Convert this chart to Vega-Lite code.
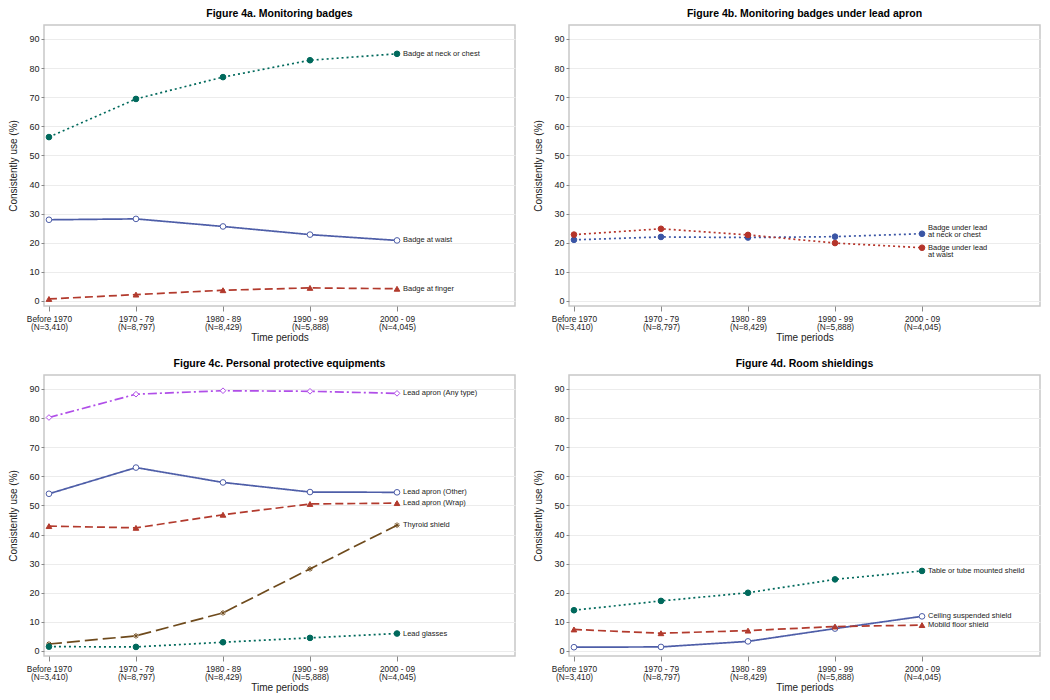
{
  "$schema": "https://vega.github.io/schema/vega-lite/v6.json",
  "background": "white",
  "padding": {"left": 8, "top": 7, "right": 5, "bottom": 5},
  "columns": 2,
  "spacing": {"row": 69, "column": 54},
  "bounds": "flush",
  "resolve": {"scale": {"stroke": "independent", "fill": "independent", "shape": "independent", "strokeDash": "independent"}},
  "datasets": {
    "a": [
      {"series": "Badge at neck or chest", "i": 0, "v": 56.3},
      {"series": "Badge at neck or chest", "i": 1, "v": 69.4},
      {"series": "Badge at neck or chest", "i": 2, "v": 76.9},
      {"series": "Badge at neck or chest", "i": 3, "v": 82.7},
      {"series": "Badge at neck or chest", "i": 4, "v": 84.9},
      {"series": "Badge at waist", "i": 0, "v": 27.9},
      {"series": "Badge at waist", "i": 1, "v": 28.2},
      {"series": "Badge at waist", "i": 2, "v": 25.6},
      {"series": "Badge at waist", "i": 3, "v": 22.8},
      {"series": "Badge at waist", "i": 4, "v": 20.8},
      {"series": "Badge at finger", "i": 0, "v": 0.7},
      {"series": "Badge at finger", "i": 1, "v": 2.2},
      {"series": "Badge at finger", "i": 2, "v": 3.7},
      {"series": "Badge at finger", "i": 3, "v": 4.5},
      {"series": "Badge at finger", "i": 4, "v": 4.2}
    ],
    "b": [
      {"series": "Badge under lead\nat neck or chest", "i": 0, "v": 21.0},
      {"series": "Badge under lead\nat neck or chest", "i": 1, "v": 22.0},
      {"series": "Badge under lead\nat neck or chest", "i": 2, "v": 21.8},
      {"series": "Badge under lead\nat neck or chest", "i": 3, "v": 22.1},
      {"series": "Badge under lead\nat neck or chest", "i": 4, "v": 23.1},
      {"series": "Badge under lead\nat waist", "i": 0, "v": 22.8},
      {"series": "Badge under lead\nat waist", "i": 1, "v": 24.8},
      {"series": "Badge under lead\nat waist", "i": 2, "v": 22.7},
      {"series": "Badge under lead\nat waist", "i": 3, "v": 19.9},
      {"series": "Badge under lead\nat waist", "i": 4, "v": 18.3}
    ],
    "c": [
      {"series": "Lead apron (Any type)", "i": 0, "v": 80.2},
      {"series": "Lead apron (Any type)", "i": 1, "v": 88.2},
      {"series": "Lead apron (Any type)", "i": 2, "v": 89.4},
      {"series": "Lead apron (Any type)", "i": 3, "v": 89.2},
      {"series": "Lead apron (Any type)", "i": 4, "v": 88.5},
      {"series": "Lead apron (Other)", "i": 0, "v": 54.0},
      {"series": "Lead apron (Other)", "i": 1, "v": 63.0},
      {"series": "Lead apron (Other)", "i": 2, "v": 57.9},
      {"series": "Lead apron (Other)", "i": 3, "v": 54.6},
      {"series": "Lead apron (Other)", "i": 4, "v": 54.5},
      {"series": "Lead apron (Wrap)", "i": 0, "v": 42.9},
      {"series": "Lead apron (Wrap)", "i": 1, "v": 42.3},
      {"series": "Lead apron (Wrap)", "i": 2, "v": 46.8},
      {"series": "Lead apron (Wrap)", "i": 3, "v": 50.5},
      {"series": "Lead apron (Wrap)", "i": 4, "v": 50.8},
      {"series": "Thyroid shield", "i": 0, "v": 2.4},
      {"series": "Thyroid shield", "i": 1, "v": 5.2},
      {"series": "Thyroid shield", "i": 2, "v": 13.1},
      {"series": "Thyroid shield", "i": 3, "v": 28.2},
      {"series": "Thyroid shield", "i": 4, "v": 43.2},
      {"series": "Lead glasses", "i": 0, "v": 1.5},
      {"series": "Lead glasses", "i": 1, "v": 1.4},
      {"series": "Lead glasses", "i": 2, "v": 3.0},
      {"series": "Lead glasses", "i": 3, "v": 4.5},
      {"series": "Lead glasses", "i": 4, "v": 6.0}
    ],
    "d": [
      {"series": "Table or tube mounted sheild", "i": 0, "v": 14.0},
      {"series": "Table or tube mounted sheild", "i": 1, "v": 17.2},
      {"series": "Table or tube mounted sheild", "i": 2, "v": 20.0},
      {"series": "Table or tube mounted sheild", "i": 3, "v": 24.6},
      {"series": "Table or tube mounted sheild", "i": 4, "v": 27.5},
      {"series": "Ceiling suspended shield", "i": 0, "v": 1.3},
      {"series": "Ceiling suspended shield", "i": 1, "v": 1.4},
      {"series": "Ceiling suspended shield", "i": 2, "v": 3.3},
      {"series": "Ceiling suspended shield", "i": 3, "v": 7.7},
      {"series": "Ceiling suspended shield", "i": 4, "v": 11.9},
      {"series": "Mobild floor shield", "i": 0, "v": 7.4},
      {"series": "Mobild floor shield", "i": 1, "v": 6.1},
      {"series": "Mobild floor shield", "i": 2, "v": 7.0},
      {"series": "Mobild floor shield", "i": 3, "v": 8.4},
      {"series": "Mobild floor shield", "i": 4, "v": 8.9}
    ]
  },
  "concat": [
    {
      "title": "Figure 4a. Monitoring badges",
      "width": 471, "height": 281,
      "data": {"name": "a"},
      "encoding": {
        "x": {"field": "i", "type": "quantitative", "scale": {"domain": [-0.057, 5.356], "nice": false, "zero": false}, "axis": {"values": [0, 1, 2, 3, 4], "labelExpr": "[['Before 1970','(N=3,410)'],['1970 - 79','(N=8,797)'],['1980 - 89','(N=8,429)'],['1990 - 99','(N=5,888)'],['2000 - 09','(N=4,045)']][datum.value]", "title": "Time periods"}},
        "y": {"field": "v", "type": "quantitative", "scale": {"domain": [-1.72, 94.8], "nice": false, "zero": false}, "axis": {"values": [0, 10, 20, 30, 40, 50, 60, 70, 80, 90], "title": "Consistently use (%)"}}
      },
      "layer": [
        {"mark": {"type": "line", "strokeWidth": 1.7},
         "encoding": {
           "stroke": {"field": "series", "type": "nominal", "legend": null, "scale": {"domain": ["Badge at neck or chest", "Badge at waist", "Badge at finger"], "range": ["#00695C", "#4E5EA8", "#B23A2D"]}},
           "strokeDash": {"field": "series", "type": "nominal", "legend": null, "scale": {"domain": ["Badge at neck or chest", "Badge at waist", "Badge at finger"], "range": [[2, 3], [1, 0], [8, 4]]}}
         }},
        {"mark": {"type": "point", "filled": true, "size": 32, "strokeWidth": 1, "opacity": 1},
         "encoding": {
           "stroke": {"field": "series", "type": "nominal", "legend": null},
           "fill": {"field": "series", "type": "nominal", "legend": null, "scale": {"domain": ["Badge at neck or chest", "Badge at waist", "Badge at finger"], "range": ["#00695C", "#ffffff", "#B23A2D"]}},
           "shape": {"field": "series", "type": "nominal", "legend": null, "scale": {"domain": ["Badge at neck or chest", "Badge at waist", "Badge at finger"], "range": ["circle", "circle", "triangle-up"]}}
         }},
        {"transform": [{"filter": "datum.i == 4"}],
         "mark": {"type": "text", "align": "left", "baseline": "middle", "dx": 6, "fontSize": 7.5, "color": "#222"},
         "encoding": {"text": {"field": "series"}}}
      ]
    },
    {
      "title": "Figure 4b. Monitoring badges under lead apron",
      "width": 471, "height": 281,
      "data": {"name": "b"},
      "encoding": {
        "x": {"field": "i", "type": "quantitative", "scale": {"domain": [-0.057, 5.356], "nice": false, "zero": false}, "axis": {"values": [0, 1, 2, 3, 4], "labelExpr": "[['Before 1970','(N=3,410)'],['1970 - 79','(N=8,797)'],['1980 - 89','(N=8,429)'],['1990 - 99','(N=5,888)'],['2000 - 09','(N=4,045)']][datum.value]", "title": "Time periods"}},
        "y": {"field": "v", "type": "quantitative", "scale": {"domain": [-1.72, 94.8], "nice": false, "zero": false}, "axis": {"values": [0, 10, 20, 30, 40, 50, 60, 70, 80, 90], "title": "Consistently use (%)"}}
      },
      "layer": [
        {"mark": {"type": "line", "strokeWidth": 1.7},
         "encoding": {
           "stroke": {"field": "series", "type": "nominal", "legend": null, "scale": {"domain": ["Badge under lead\nat neck or chest", "Badge under lead\nat waist"], "range": ["#3A55A5", "#B5342A"]}},
           "strokeDash": {"field": "series", "type": "nominal", "legend": null, "scale": {"domain": ["Badge under lead\nat neck or chest", "Badge under lead\nat waist"], "range": [[2, 3], [2, 3]]}}
         }},
        {"mark": {"type": "point", "filled": true, "size": 32, "strokeWidth": 1, "opacity": 1},
         "encoding": {
           "stroke": {"field": "series", "type": "nominal", "legend": null},
           "fill": {"field": "series", "type": "nominal", "legend": null, "scale": {"domain": ["Badge under lead\nat neck or chest", "Badge under lead\nat waist"], "range": ["#3A55A5", "#B5342A"]}},
           "shape": {"field": "series", "type": "nominal", "legend": null, "scale": {"domain": ["Badge under lead\nat neck or chest", "Badge under lead\nat waist"], "range": ["circle", "circle"]}}
         }},
        {"transform": [{"filter": "datum.i == 4 && datum.v > 20"}],
         "mark": {"type": "text", "align": "left", "baseline": "middle", "dx": 6, "dy": -6, "lineBreak": "\n", "lineHeight": 7.5, "fontSize": 7.5, "color": "#222"},
         "encoding": {"text": {"field": "series"}}},
        {"transform": [{"filter": "datum.i == 4 && datum.v < 20"}],
         "mark": {"type": "text", "align": "left", "baseline": "middle", "dx": 6, "dy": 0, "lineBreak": "\n", "lineHeight": 7.5, "fontSize": 7.5, "color": "#222"},
         "encoding": {"text": {"field": "series"}}}
      ]
    },
    {
      "title": "Figure 4c. Personal protective equipments",
      "width": 471, "height": 281,
      "data": {"name": "c"},
      "encoding": {
        "x": {"field": "i", "type": "quantitative", "scale": {"domain": [-0.057, 5.356], "nice": false, "zero": false}, "axis": {"values": [0, 1, 2, 3, 4], "labelExpr": "[['Before 1970','(N=3,410)'],['1970 - 79','(N=8,797)'],['1980 - 89','(N=8,429)'],['1990 - 99','(N=5,888)'],['2000 - 09','(N=4,045)']][datum.value]", "title": "Time periods"}},
        "y": {"field": "v", "type": "quantitative", "scale": {"domain": [-1.72, 94.8], "nice": false, "zero": false}, "axis": {"values": [0, 10, 20, 30, 40, 50, 60, 70, 80, 90], "title": "Consistently use (%)"}}
      },
      "layer": [
        {"mark": {"type": "line", "strokeWidth": 1.7},
         "encoding": {
           "stroke": {"field": "series", "type": "nominal", "legend": null, "scale": {"domain": ["Lead apron (Any type)", "Lead apron (Other)", "Lead apron (Wrap)", "Thyroid shield", "Lead glasses"], "range": ["#B04EE8", "#4E5EA8", "#B23A2D", "#6E4A1C", "#00695C"]}},
           "strokeDash": {"field": "series", "type": "nominal", "legend": null, "scale": {"domain": ["Lead apron (Any type)", "Lead apron (Other)", "Lead apron (Wrap)", "Thyroid shield", "Lead glasses"], "range": [[9, 3, 2, 3], [1, 0], [8, 4], [13, 5], [2, 3]]}}
         }},
        {"mark": {"type": "point", "filled": true, "size": 32, "strokeWidth": 1, "opacity": 1},
         "encoding": {
           "stroke": {"field": "series", "type": "nominal", "legend": null},
           "fill": {"field": "series", "type": "nominal", "legend": null, "scale": {"domain": ["Lead apron (Any type)", "Lead apron (Other)", "Lead apron (Wrap)", "Thyroid shield", "Lead glasses"], "range": ["#ffffff", "#ffffff", "#B23A2D", "#ffffff", "#00695C"]}},
           "shape": {"field": "series", "type": "nominal", "legend": null, "scale": {"domain": ["Lead apron (Any type)", "Lead apron (Other)", "Lead apron (Wrap)", "Thyroid shield", "Lead glasses"], "range": ["diamond", "circle", "triangle-up", "M-1,0L1,0M0,-1L0,1M-0.7,-0.7L0.7,0.7M-0.7,0.7L0.7,-0.7", "circle"]}}
         }},
        {"transform": [{"filter": "datum.i == 4"}],
         "mark": {"type": "text", "align": "left", "baseline": "middle", "dx": 6, "fontSize": 7.5, "color": "#222"},
         "encoding": {"text": {"field": "series"}}}
      ]
    },
    {
      "title": "Figure 4d. Room shieldings",
      "width": 471, "height": 281,
      "data": {"name": "d"},
      "encoding": {
        "x": {"field": "i", "type": "quantitative", "scale": {"domain": [-0.057, 5.356], "nice": false, "zero": false}, "axis": {"values": [0, 1, 2, 3, 4], "labelExpr": "[['Before 1970','(N=3,410)'],['1970 - 79','(N=8,797)'],['1980 - 89','(N=8,429)'],['1990 - 99','(N=5,888)'],['2000 - 09','(N=4,045)']][datum.value]", "title": "Time periods"}},
        "y": {"field": "v", "type": "quantitative", "scale": {"domain": [-1.72, 94.8], "nice": false, "zero": false}, "axis": {"values": [0, 10, 20, 30, 40, 50, 60, 70, 80, 90], "title": "Consistently use (%)"}}
      },
      "layer": [
        {"mark": {"type": "line", "strokeWidth": 1.7},
         "encoding": {
           "stroke": {"field": "series", "type": "nominal", "legend": null, "scale": {"domain": ["Table or tube mounted sheild", "Ceiling suspended shield", "Mobild floor shield"], "range": ["#00695C", "#4E5EA8", "#B23A2D"]}},
           "strokeDash": {"field": "series", "type": "nominal", "legend": null, "scale": {"domain": ["Table or tube mounted sheild", "Ceiling suspended shield", "Mobild floor shield"], "range": [[2, 3], [1, 0], [8, 4]]}}
         }},
        {"mark": {"type": "point", "filled": true, "size": 32, "strokeWidth": 1, "opacity": 1},
         "encoding": {
           "stroke": {"field": "series", "type": "nominal", "legend": null},
           "fill": {"field": "series", "type": "nominal", "legend": null, "scale": {"domain": ["Table or tube mounted sheild", "Ceiling suspended shield", "Mobild floor shield"], "range": ["#00695C", "#ffffff", "#B23A2D"]}},
           "shape": {"field": "series", "type": "nominal", "legend": null, "scale": {"domain": ["Table or tube mounted sheild", "Ceiling suspended shield", "Mobild floor shield"], "range": ["circle", "circle", "triangle-up"]}}
         }},
        {"transform": [{"filter": "datum.i == 4"}],
         "mark": {"type": "text", "align": "left", "baseline": "middle", "dx": 6, "fontSize": 7.5, "color": "#222"},
         "encoding": {"text": {"field": "series"}}}
      ]
    }
  ],
  "config": {
    "font": "Liberation Sans",
    "view": {"stroke": "#c8c8c8", "strokeWidth": 1.5},
    "title": {"fontSize": 10.5, "fontWeight": "bold", "color": "#000", "anchor": "middle", "frame": "group", "offset": 6},
    "axisX": {"grid": false, "domain": false, "tickColor": "#888", "tickSize": 5, "labelFontSize": 8.3, "labelLineHeight": 8.7, "labelColor": "#222", "labelPadding": 3, "labelOverlap": false, "labelFlush": false, "titleFontSize": 10, "titleFontWeight": "normal", "titleColor": "#222", "titlePadding": 1},
    "axisY": {"grid": true, "gridColor": "#ececec", "domain": false, "tickColor": "#888", "tickSize": 3, "labelFontSize": 9, "labelColor": "#222", "labelPadding": 2, "titleFontSize": 10, "titleFontWeight": "normal", "titleColor": "#222", "titlePadding": 10}
  }
}
